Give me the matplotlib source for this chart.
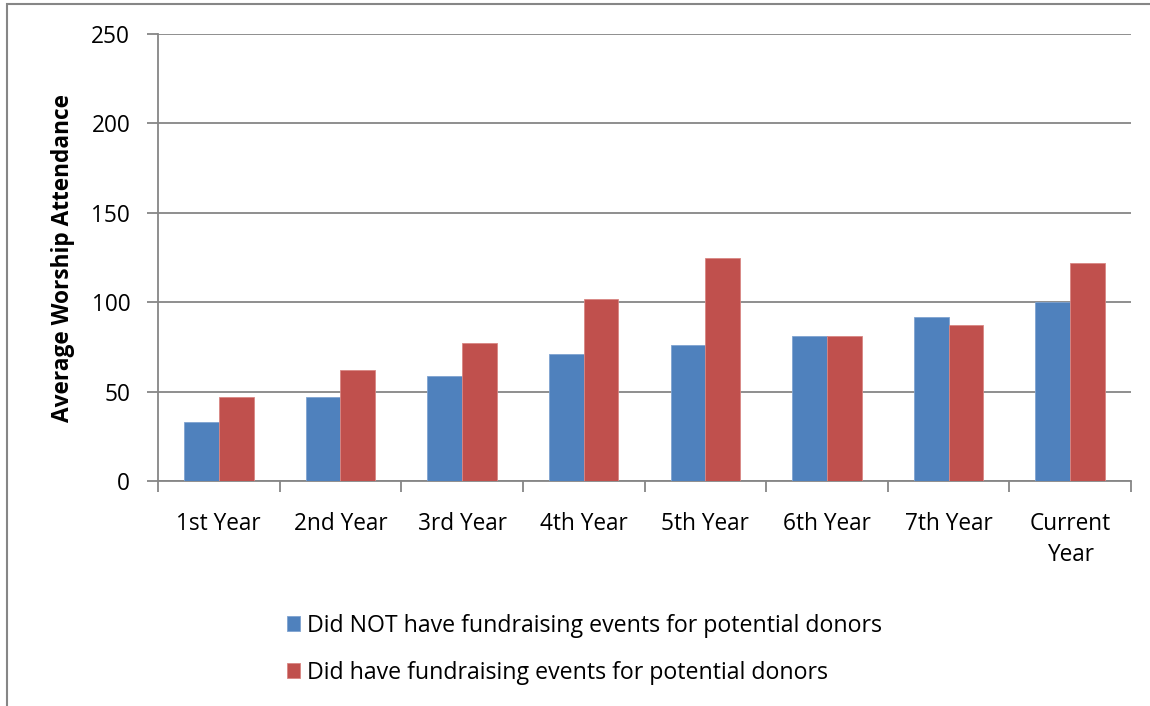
import matplotlib
matplotlib.use("Agg")
import matplotlib.pyplot as plt
import numpy as np
from matplotlib.patches import Rectangle

categories = ["1st Year", "2nd Year", "3rd Year", "4th Year", "5th Year", "6th Year", "7th Year", "Current\nYear"]
no_events = [33, 47, 59, 71, 76, 81, 92, 100]
with_events = [47, 62, 77, 102, 125, 81, 87, 122]
series_names = ["Did NOT have fundraising events for potential donors",
                "Did have fundraising events for potential donors"]
y_ticks = [0, 50, 100, 150, 200, 250]

plt.rcParams['font.family'] = ['Open Sans', 'DejaVu Sans']
blue = "#4F81BD"
red = "#C0504D"
gray = "#868686"
fs = 16.3

fig = plt.figure(figsize=(11.5, 7.06), dpi=100)
ax = fig.add_axes([158/1150, 1-481/706, (1131-158)/1150, (481-34)/706])

x = np.arange(len(categories))
w = 1/3.5
b1 = ax.bar(x - w/2, no_events, w, color=blue, edgecolor="#7FA3D0", linewidth=0.6, label=series_names[0], zorder=3)
b2 = ax.bar(x + w/2, with_events, w, color=red, edgecolor="#D98683", linewidth=0.6, label=series_names[1], zorder=3)

ax.set_xlim(-0.5, len(categories) - 0.5)
ax.set_ylim(0, 250)
ax.set_yticks(y_ticks)
ax.set_yticklabels([str(v) for v in y_ticks], fontsize=fs)
ax.yaxis.grid(True, color=gray, linewidth=1.3, zorder=0)
ax.set_axisbelow(True)

ax.set_xticks(x)
ax.set_xticklabels(categories, fontsize=fs, linespacing=1.42)
ax.tick_params(axis='x', length=0, pad=22)
ax.set_xticks(np.arange(len(categories) + 1) - 0.5, minor=True)
ax.tick_params(axis='x', which='minor', length=8, color=gray, width=1.3)
ax.tick_params(axis='y', length=8, color=gray, width=1.3, pad=12)

for s in ['top', 'right']:
    ax.spines[s].set_visible(False)
for s in ['left', 'bottom']:
    ax.spines[s].set_color(gray)
    ax.spines[s].set_linewidth(1.3)

ax.set_ylabel("Average Worship Attendance", fontsize=fs, fontweight='bold', labelpad=12)

leg = fig.legend(handles=[b1, b2], labels=series_names, loc='upper left',
                 bbox_to_anchor=(266/1150, 1-593/706), frameon=False, fontsize=16.7,
                 handlelength=0.58, handleheight=0.58, handletextpad=0.3, labelspacing=0.98)

# outer chart border (top and left visible)
fig.add_artist(Rectangle((7/1150, -0.1), 1.2, 1 - 4/706 + 0.1, transform=fig.transFigure,
                         fill=False, edgecolor=gray, linewidth=1.5))

fig.savefig("out.png", dpi=100)
